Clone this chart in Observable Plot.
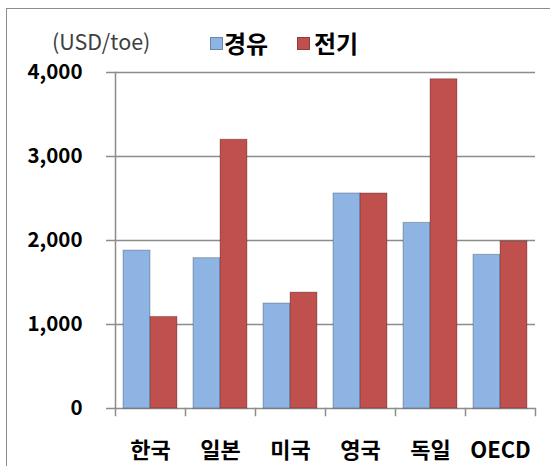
<!DOCTYPE html>
<html><head><meta charset="utf-8">
<script src="https://cdn.jsdelivr.net/npm/d3@7"></script>
<script src="https://cdn.jsdelivr.net/npm/@observablehq/plot@0.6"></script>
<style>
body{margin:0;background:#fff;}
#wrap{position:relative;width:550px;height:466px;overflow:hidden;font-family:'Noto Sans CJK KR',sans-serif;}
#border{position:absolute;left:6px;top:8px;width:600px;height:600px;border-left:1.5px solid #8c8c8c;border-top:1.5px solid #8c8c8c;}
#chart{position:absolute;left:0;top:0;}
#unit{position:absolute;left:52px;top:30px;font-size:21.5px;line-height:22px;color:#404040;}
.sw{position:absolute;top:37px;width:11px;height:11px;border:1px solid rgba(0,0,0,0.25);}
.lt{position:absolute;top:31px;font-size:24px;line-height:24px;font-weight:bold;color:#000;}
</style></head>
<body>
<div id="wrap">
  <div id="border"></div>
  <div id="chart"></div>
  <div id="unit"></div>
  <div id="legend"></div>
</div>
<script>
const categories = ["한국","일본","미국","영국","독일","OECD"];
const series = ["경유","전기"];
const diesel = [1880,1790,1250,2560,2210,1830];
const electricity = [1090,3200,1380,2560,3920,1990];
const yTicks = [0,1000,2000,3000,4000];
const unitLabel = "(USD/toe)";
const colors = ["#8EB4E3","#C0504D"];

const data = categories.flatMap((c,i)=>[
  {cat:c, series:series[0], value:diesel[i]},
  {cat:c, series:series[1], value:electricity[i]}
]);

const W=550, H=466, mt=72, mb=58, ml=114, mr=14;
const grey="#8c8c8c";
const chart = Plot.plot({
  width:W, height:H, marginTop:mt, marginBottom:mb, marginLeft:ml, marginRight:mr,
  style:{fontFamily:"'Noto Sans CJK KR', sans-serif", fontWeight:"bold", fontSize:"20px", color:"#000", background:"transparent", overflow:"visible"},
  fx:{domain:categories, padding:0, label:null},
  x:{domain:series, paddingInner:0, paddingOuter:0.28, axis:null},
  y:{domain:[0,4000], label:null},
  color:{domain:series, range:colors},
  marks:[
    Plot.ruleY(yTicks, {stroke:grey, strokeWidth:1.5}),
    Plot.barY(data, {fx:"cat", x:"series", y:"value", fill:"series", stroke:"#000", strokeOpacity:0.25, strokeWidth:1}),
    Plot.axisY(yTicks, {tickSize:9, tickPadding:24, tickFormat:d3.format(","), stroke:grey, strokeWidth:1.5, fill:"#000", fontSize:20.5, label:null}),
    Plot.axisFx({anchor:"bottom", tickSize:0, tickPadding:34, fontSize:22, label:null}),
    Plot.frame({anchor:"left", facetAnchor:"left", stroke:grey, strokeWidth:1.5}),
    Plot.frame({anchor:"left", insetTop:H-mt-mb, insetBottom:-7, stroke:grey, strokeWidth:1.5}),
    Plot.frame({anchor:"right", facetAnchor:"right", insetTop:H-mt-mb, insetBottom:-7, stroke:grey, strokeWidth:1.5})
  ]
});
document.getElementById("chart").append(chart);
document.getElementById("unit").textContent = unitLabel;

const legend = document.getElementById("legend");
const legPos = [[210,224],[297,314]];
series.forEach((s,i)=>{
  const sw = document.createElement("div");
  sw.className="sw"; sw.style.left=legPos[i][0]+"px"; sw.style.background=colors[i];
  legend.append(sw);
  const t = document.createElement("div");
  t.className="lt"; t.style.left=legPos[i][1]+"px"; t.textContent=s;
  legend.append(t);
});
</script>
</body></html>
